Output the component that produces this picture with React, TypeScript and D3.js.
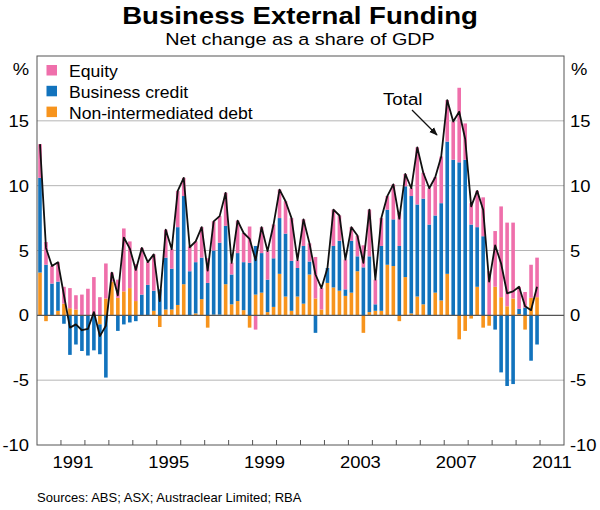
import { useRef, useEffect } from "react";
import * as d3 from "d3";

// Quarterly, March 1990 to December 2010, per cent of GDP
const START_YEAR = 1990;
const NON_INTERMEDIATED = [
  3.3, -0.45, 0, 0.35, 0.9, 0.55, 0.45, 0, 0, 0, -0.7, 1.3,
  2.6, 1.35, 1.85, 2.1, 1.1, 0, 0, 0.35, -0.9, 0.45, 0.45, 0.8,
  2.4, -0.05, 0.15, 1.25, -0.95, 0.05, 0.05, 2.4, 0.85, 1.1, 0.4, -0.95,
  1.6, 1.75, 0.25, 0.65, 3.2, 1.45, 0.35, 1.45, 0.9, 3.15, 1.3, 0.45,
  2.5, 2.15, 1.9, 1.5, 1.75, 3.4, -1.35, 0.25, 0.35, 0.35, 3.9, 3.8,
  -0.45, 2.95, 0.15, 1.45, 0.85, 0, 1.75, 1.15, 3.2, 0, -1.85, -1.2,
  -0.25, 2.2, -0.95, -0.8, 2.2, 1.4, 0.7, 1.3, 0.1, -1.1, 1.35, 1.4,
];
const BUSINESS_CREDIT = [
  7.3, 3.9, 2.45, 2.25, -0.65, -3.05, -2.25, -2.75, -3.1, -2.7, -2.3, -4.8,
  0, -1.2, -0.7, -0.55, -0.45, 1.6, 2.35, 1.55, 2.0, 4.0, 3.15, 6.0,
  6.8, 3.4, 3.95, 3.2, 2.5, 4.95, 5.55, 4.5, 2.3, 3.7, 3.7, 4.05,
  3.75, 3.05, 2.5, 3.75, 4.3, 4.85, 3.85, 2.2, 4.45, 1.0, -1.35, 0,
  1.15, 3.2, 3.85, 0.5, 4.0, 1.15, 3.7, 4.3, 0.5, 5.0, 4.25, 3.6,
  5.35, 7.0, 9.05, 7.1, 8.15, 7.0, 5.95, 7.5, 10.2, 12.0, 11.8, 12.0,
  7.0, 4.6, 6.1, 0, -1.1, -4.4, -5.45, -5.3, 0.4, 0.6, -3.5, -2.25,
];
const EQUITY = [
  2.6, 1.75, 1.35, 1.5, 1.3, 1.55, 1.1, 1.6, 2.05, 2.95, 1.4, 2.7,
  0.7, 1.4, 4.85, 3.6, 2.85, 3.6, 1.75, 2.8, 0, 2.15, 1.5, 2.8,
  1.4, 1.9, 1.6, 2.35, 1.9, 2.25, 2.05, 2.55, 0.9, 2.5, 2.25, 2.8,
  -1.1, 2.0, 2.2, 2.6, 2.2, 2.5, 3.3, 0.6, 2.05, 1.4, 3.2, 1.65,
  0, 2.8, 1.95, 2.3, 1.05, 1.6, 1.7, 3.6, 1.9, 2.15, 1.05, 2.7,
  2.55, 0.95, 0.6, 4.4, 2.0, 2.8, 2.95, 3.6, 3.2, 2.95, 5.75, 2.8,
  1.65, 2.8, 3.0, 3.4, 4.3, 7.0, 6.45, 5.85, 1.7, 1.2, 2.55, 3.05,
];
const TOTAL = [
  13.2, 5.2, 3.8, 4.1, 1.55, -0.95, -0.7, -1.15, -1.05, 0.25, -1.6, -0.8,
  3.3, 1.55, 6.0, 5.15, 3.5, 5.2, 4.1, 4.7, 1.1, 6.6, 5.1, 9.6,
  10.6, 5.25, 5.7, 6.8, 3.45, 7.25, 7.65, 9.45, 4.05, 7.3, 6.35, 5.9,
  4.25, 6.8, 4.95, 7.0, 9.7, 8.8, 7.5, 4.25, 7.4, 5.55, 3.15, 2.1,
  3.65, 8.15, 7.7, 4.3, 6.8, 6.15, 4.05, 8.15, 2.75, 7.5, 9.2, 10.1,
  7.45, 10.9, 9.8, 12.95, 11.0, 9.8, 10.65, 12.25, 16.6, 14.95, 15.7, 13.6,
  8.4, 9.6, 8.15, 2.6, 5.4, 4.0, 1.7, 1.85, 2.2, 0.7, 0.4, 2.2,
];

const SERIES = [
  { key: "equity", name: "Equity", color: "#ef6fab" },
  { key: "credit", name: "Business credit", color: "#1273bd" },
  { key: "nonInter", name: "Non-intermediated debt", color: "#f7941d" },
];
const Y_TICKS = [-10, -5, 0, 5, 10, 15];
const YEAR_LABELS = [1991, 1995, 1999, 2003, 2007, 2011];

const FONT = "Arial, 'Liberation Sans', Helvetica, sans-serif";
// the original lettering is a little wider than Arial
const SX = 1.15;

export default function App() {
  const svgRef = useRef<SVGSVGElement>(null);

  useEffect(() => {
    if (!svgRef.current) return;
    const width = 600;
    const height = 510;
    const m = { left: 37, right: 36, top: 56, bottom: 65 };

    const svg = d3.select(svgRef.current);
    svg.selectAll("*").remove();
    svg.attr("width", width).attr("height", height).style("font-family", FONT);

    const rows = TOTAL.map((t, i) => ({
      date: START_YEAR + i * 0.25,
      nonInter: NON_INTERMEDIATED[i],
      credit: BUSINESS_CREDIT[i],
      equity: EQUITY[i],
      total: t,
    }));

    const x = d3.scaleLinear().domain([1990, 2012]).range([m.left, width - m.right]);
    const y = d3.scaleLinear().domain([-10, 20]).range([height - m.bottom, m.top]);

    svg.append("rect").attr("width", width).attr("height", height).attr("fill", "#fff");

    const label = (px: number, py: number, s: string, size: number, anchor = "start", sx = SX) =>
      svg.append("text")
        .attr("transform", `translate(${px},${py}) scale(${sx},1)`)
        .attr("text-anchor", anchor)
        .style("font-size", `${size}px`)
        .text(s);

    // grid
    svg.append("g")
      .selectAll("line")
      .data(Y_TICKS.filter((t) => t !== 0 && t !== -10))
      .join("line")
      .attr("x1", m.left)
      .attr("x2", width - m.right)
      .attr("y1", (d) => y(d))
      .attr("y2", (d) => y(d))
      .attr("stroke", "#b5b5b5")
      .attr("stroke-width", 1);

    const stack = d3.stack<(typeof rows)[number]>()
      .keys(["nonInter", "credit", "equity"])
      .offset(d3.stackOffsetDiverging);
    const stacked = stack(rows);
    const colorOf: Record<string, string> = {};
    SERIES.forEach((s) => (colorOf[s.key] = s.color));

    const barW = 3.6;
    svg.append("g")
      .selectAll("g")
      .data(stacked)
      .join("g")
      .attr("fill", (s) => colorOf[s.key])
      .selectAll("rect")
      .data((s) => s)
      .join("rect")
      .attr("x", (d) => x(d.data.date + 0.125) - barW / 2)
      .attr("width", barW)
      .attr("y", (d) => y(Math.max(d[0], d[1])))
      .attr("height", (d) => Math.abs(y(d[0]) - y(d[1])));

    // zero line
    svg.append("line")
      .attr("x1", m.left)
      .attr("x2", width - m.right)
      .attr("y1", y(0))
      .attr("y2", y(0))
      .attr("stroke", "#555")
      .attr("stroke-width", 1.2);

    // total line
    const line = d3.line<(typeof rows)[number]>()
      .x((d) => x(d.date + 0.125))
      .y((d) => y(d.total));
    svg.append("path")
      .datum(rows)
      .attr("d", line)
      .attr("fill", "none")
      .attr("stroke", "#111")
      .attr("stroke-width", 1.8)
      .attr("stroke-linejoin", "round");

    // frame
    svg.append("rect")
      .attr("x", m.left)
      .attr("y", m.top)
      .attr("width", width - m.left - m.right)
      .attr("height", height - m.top - m.bottom)
      .attr("fill", "none")
      .attr("stroke", "#555")
      .attr("stroke-width", 1);

    // x ticks
    svg.append("g")
      .selectAll("line")
      .data(d3.range(1991, 2012))
      .join("line")
      .attr("x1", (d) => x(d))
      .attr("x2", (d) => x(d))
      .attr("y1", y(-10))
      .attr("y2", y(-10) - 5)
      .attr("stroke", "#555");

    YEAR_LABELS.forEach((yr) => label(x(yr + 0.5), y(-10) + 23, String(yr), 16, "middle"));

    // y labels
    Y_TICKS.forEach((t) => {
      label(m.left - 8, y(t) + 6, String(t), 16, "end");
      label(width - m.right + 6, y(t) + 6, String(t), 16, "start");
    });
    label(29, 75, "%", 16, "end");
    label(571, 75, "%", 16, "start");

    // legend
    SERIES.forEach((s, i) => {
      const top = 65 + i * 20.8;
      svg.append("rect")
        .attr("x", 46.5)
        .attr("y", top)
        .attr("width", 10.5)
        .attr("height", 10.5)
        .attr("fill", s.color);
      label(69, top + 12, s.name, 16, "start", 1.1);
    });

    // Total annotation
    svg.append("defs").append("marker")
      .attr("id", "arrow")
      .attr("viewBox", "0 0 10 10")
      .attr("refX", 9)
      .attr("refY", 5)
      .attr("markerWidth", 7)
      .attr("markerHeight", 7)
      .attr("orient", "auto")
      .append("path")
      .attr("d", "M0,1 L10,5 L0,9 Z")
      .attr("fill", "#111");
    label(383, 105, "Total", 17, "start", 1.1);
    svg.append("line")
      .attr("x1", 412)
      .attr("y1", 110)
      .attr("x2", 437)
      .attr("y2", 135)
      .attr("stroke", "#111")
      .attr("stroke-width", 1.2)
      .attr("marker-end", "url(#arrow)");

    // titles
    label(300, 24, "Business External Funding", 24, "middle", 1.15).style("font-weight", "bold");
    label(300, 45, "Net change as a share of GDP", 16.5, "middle", 1.2);

    label(37, 502, "Sources: ABS; ASX; Austraclear Limited; RBA", 13, "start", 1);
  }, []);

  return <svg ref={svgRef} style={{ position: "absolute", left: 0, top: 0 }} />;
}
